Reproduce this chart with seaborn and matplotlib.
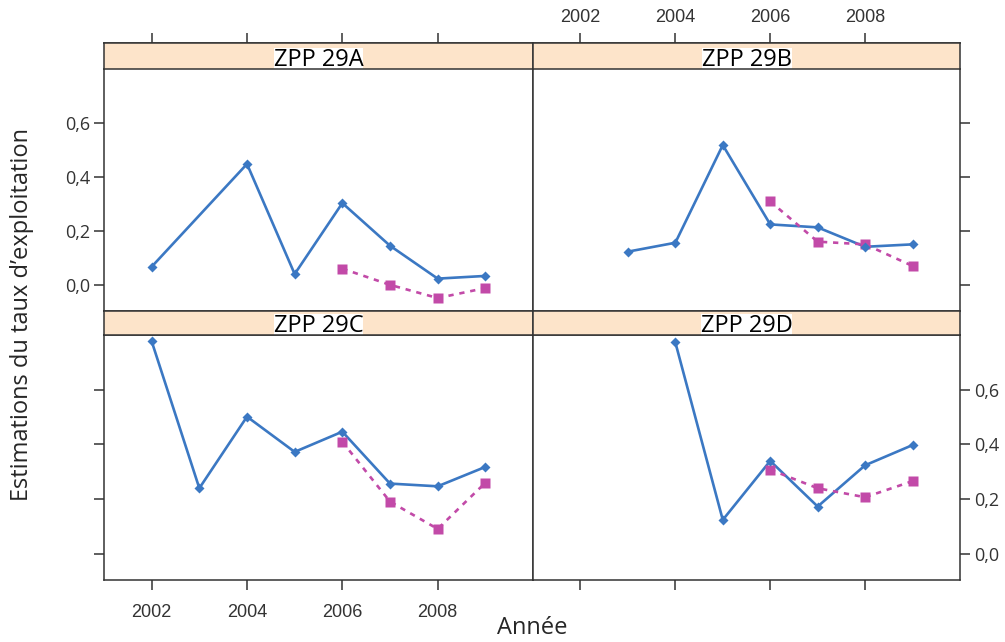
import pandas as pd
import seaborn as sns
import matplotlib.pyplot as plt
from matplotlib.ticker import FuncFormatter

# Valeurs
zones = ["ZPP 29A", "ZPP 29B", "ZPP 29C", "ZPP 29D"]

annees_bleu = {
    "ZPP 29A": [2002, 2004, 2005, 2006, 2007, 2008, 2009],
    "ZPP 29B": [2003, 2004, 2005, 2006, 2007, 2008, 2009],
    "ZPP 29C": [2002, 2003, 2004, 2005, 2006, 2007, 2008, 2009],
    "ZPP 29D": [2004, 2005, 2006, 2007, 2008, 2009],
}
taux_bleu = {
    "ZPP 29A": [0.067, 0.448, 0.040, 0.303, 0.145, 0.023, 0.033],
    "ZPP 29B": [0.123, 0.156, 0.518, 0.224, 0.213, 0.141, 0.150],
    "ZPP 29C": [0.777, 0.239, 0.501, 0.372, 0.446, 0.256, 0.246, 0.317],
    "ZPP 29D": [0.773, 0.123, 0.339, 0.172, 0.323, 0.397],
}
annees_rose = [2006, 2007, 2008, 2009]
taux_rose = {
    "ZPP 29A": [0.060, 0.000, -0.049, -0.012],
    "ZPP 29B": [0.309, 0.160, 0.150, 0.070],
    "ZPP 29C": [0.409, 0.190, 0.090, 0.259],
    "ZPP 29D": [0.307, 0.239, 0.206, 0.265],
}

rows = []
for z in zones:
    for a, t in zip(annees_bleu[z], taux_bleu[z]):
        rows.append({"zone": z, "annee": a, "taux": t, "methode": "bleu"})
    for a, t in zip(annees_rose, taux_rose[z]):
        rows.append({"zone": z, "annee": a, "taux": t, "methode": "rose"})
df = pd.DataFrame(rows)

sns.set_style("white")
plt.rcParams["font.family"] = ["Open Sans", "DejaVu Sans"]

BLEU = "#3b78c3"
ROSE = "#c24aa8"
STRIP = "#fde4ca"
BORD = "#333333"

fig = plt.figure(figsize=(10.05, 6.42), dpi=100)
W, H = 1005, 642

# positions en pixels: (gauche, haut, droite, bas) de la zone de données
cadres = {
    "ZPP 29A": (104, 69, 533, 311),
    "ZPP 29B": (533, 69, 960, 311),
    "ZPP 29C": (104, 335, 533, 580),
    "ZPP 29D": (533, 335, 960, 580),
}
strips = {
    "ZPP 29A": (43, 69),
    "ZPP 29B": (43, 69),
    "ZPP 29C": (311, 335),
    "ZPP 29D": (311, 335),
}

fmt = FuncFormatter(lambda v, p: f"{v:.1f}".replace(".", ","))

for i, z in enumerate(zones):
    l, t, r, b = cadres[z]
    ax = fig.add_axes([l / W, (H - b) / H, (r - l) / W, (b - t) / H])
    sub = df[df["zone"] == z]
    sns.lineplot(data=sub, x="annee", y="taux", hue="methode", style="methode",
                 palette={"bleu": BLEU, "rose": ROSE},
                 markers={"bleu": "D", "rose": "s"},
                 dashes={"bleu": "", "rose": (2, 2.2)},
                 markersize=0, linewidth=1.9, legend=False, ax=ax)
    # marqueurs séparés pour régler leur taille
    bl = sub[sub["methode"] == "bleu"]
    ro = sub[sub["methode"] == "rose"]
    ax.plot(ro["annee"], ro["taux"], "s", color=ROSE, markersize=7, mec="none", zorder=3)
    ax.plot(bl["annee"], bl["taux"], "D", color=BLEU, markersize=5.5, mec="none", zorder=4)

    ax.set_xlim(2001, 2010)
    ax.set_ylim(-0.097, 0.8)
    ax.set_xticks([2002, 2004, 2006, 2008])
    ax.set_yticks([0.0, 0.2, 0.4, 0.6])
    ax.yaxis.set_major_formatter(fmt)
    ax.set_xlabel("")
    ax.set_ylabel("")
    for s in ax.spines.values():
        s.set_color(BORD)
        s.set_linewidth(1.1)
    ax.tick_params(direction="out", length=7, width=1.1, color=BORD, colors=BORD,
                   labelsize=13)

    haut = i < 2
    gauche = i % 2 == 0
    if haut:
        ax.spines["top"].set_position(("outward", (t - strips[z][0]) * 0.72))
        ax.xaxis.set_ticks_position("top")
        ax.tick_params(axis="x", labeltop=not gauche, labelbottom=False, pad=5)
    else:
        ax.xaxis.set_ticks_position("bottom")
        ax.tick_params(axis="x", labelbottom=gauche, labeltop=False, pad=10)
    if gauche:
        ax.yaxis.set_ticks_position("left")
        ax.tick_params(axis="y", labelleft=haut, labelright=False, pad=3)
    else:
        ax.yaxis.set_ticks_position("right")
        ax.tick_params(axis="y", labelright=not haut, labelleft=False, pad=3)
    for tk in ax.xaxis.get_major_ticks():
        tk.label1.set_fontfamily("Liberation Sans")
        tk.label2.set_fontfamily("Liberation Sans")

    # bandeau de titre
    st, sb = strips[z]
    sax = fig.add_axes([l / W, (H - sb) / H, (r - l) / W, (sb - st) / H])
    sax.set_facecolor(STRIP)
    sax.set_xticks([])
    sax.set_yticks([])
    for s in sax.spines.values():
        s.set_color(BORD)
        s.set_linewidth(1.1)
        s.set_zorder(5)
    sax.text(0.5, 0.12, z, ha="center", va="baseline", fontsize=17, color="black",
             transform=sax.transAxes, clip_on=True,
             bbox=dict(facecolor="white", edgecolor="none", pad=0))

fig.text(22 / W, (H - 314) / H, "Estimations du taux d\u2019exploitation",
         rotation=90, ha="center", va="center", fontsize=17)
fig.text(532 / W, (H - 628) / H, "Année", ha="center", va="center", fontsize=17)

fig.savefig("out.png", dpi=100)
